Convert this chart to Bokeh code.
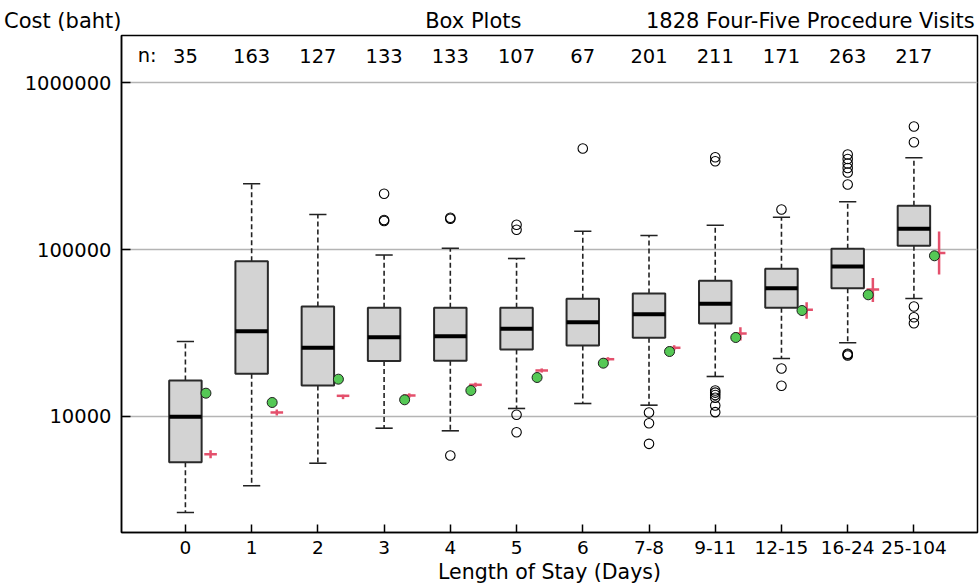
from bokeh.plotting import figure
from bokeh.layouts import column
from bokeh.models import FixedTicker, NumeralTickFormatter, Label, Range1d, ColumnDataSource
from bokeh.embed import file_html
from bokeh.resources import INLINE
from bokeh.core.properties import value

# ---------------- data ----------------
categories = ["0", "1", "2", "3", "4", "5", "6", "7-8", "9-11", "12-15", "16-24", "25-104"]
counts = [35, 163, 127, 133, 133, 107, 67, 201, 211, 171, 263, 217]

whisker_low = [2660, 3850, 5250, 8510, 8210, 11170, 11960, 11690, 17360, 22250, 27620, 50890]
q1 = [5330, 18020, 15330, 21490, 21550, 25190, 26610, 29600, 36060, 44780, 58650, 105250]
median = [9950, 32420, 25790, 29810, 30260, 33500, 36710, 40990, 47300, 58650, 79100, 133000]
q3 = [16430, 85090, 45570, 44820, 44780, 44780, 50680, 54510, 64950, 76640, 100970, 182700]
whisker_high = [28120, 247400, 162000, 92710, 101800, 88340, 128700, 121300, 139800, 156100, 193000, 354100]

outliers = [
    [],
    [],
    [],
    [215600, 150200, 148200],
    [154800, 152700, 5840],
    [140600, 131200, 10240, 8050],
    [402500],
    [10570, 9120, 6860],
    [357000, 337900, 14310, 13900, 13450, 12950, 11640, 10620],
    [173600, 19390, 15270],
    [370600, 348300, 327300, 307600, 289100, 245000, 23740, 23500, 23190],
    [545100, 439000, 45570, 39320, 36210],
]

green_points = [13790, 12130, 16730, 12590, 14310, 17120, 20860, 24500, 29720, 43120, 53550, 91700]
mean_values = [5945, 10570, 13300, 13360, 15480, 18860, 22030, 25790, 31400, 43540, 57610, 95280]
mean_low = [5630, 10140, 12700, 12970, 15040, 18330, 21410, 24920, 28520, 38460, 48480, 70850]
mean_high = [6280, 11010, 13500, 13760, 15940, 19400, 22660, 26710, 34240, 48350, 67500, 128200]

y_label = "Cost (baht)"
title_center = "Box Plots"
title_right = "1828 Four-Five Procedure Visits"
x_label = "Length of Stay (Days)"

# ---------------- styling constants ----------------
FONT = "DejaVu Sans"
BOX_W = 0.49
CAP_W = 0.13
GREEN_DX = 0.31
RED_DX = 0.38
RED_HW = 0.095
TOP_H = 33
W, H = 980, 587

xs = list(range(1, len(categories) + 1))
x_range = Range1d(0.035, 12.96)

# ---------------- title strip ----------------
top = figure(width=W, height=TOP_H, x_range=x_range, y_range=Range1d(0, 1),
             output_backend="svg", toolbar_location=None, title=None,
             x_axis_location=None, y_axis_location="left",
             min_border_left=121, min_border_right=3, min_border_top=7, min_border_bottom=0)
top.outline_line_color = None
top.grid.visible = False
top.background_fill_color = "white"
top.border_fill_color = "white"
top.yaxis.ticker = FixedTicker(ticks=[])
top.yaxis.axis_line_color = None
top.yaxis.major_tick_line_color = None
top.yaxis.minor_tick_line_color = None
top.yaxis.major_tick_in = 0
top.yaxis.major_tick_out = 0
top.yaxis.minor_tick_out = 0
top.yaxis.major_label_standoff = 0
top.yaxis.axis_label = y_label
top.yaxis.axis_label_orientation = "horizontal"
top.yaxis.axis_label_standoff = 0
top.yaxis.axis_label_text_font = FONT
top.yaxis.axis_label_text_font_size = "21px"
top.yaxis.axis_label_text_font_style = "normal"
top.yaxis.axis_label_text_color = "black"

top.text(x=[5.347], y=[0.5], text=[title_center], text_font=value(FONT), text_font_size="21px",
         text_align="center", text_baseline="middle", text_color="black")
top.text(x=[12.918], y=[0.5], text=[title_right], text_font=value(FONT), text_font_size="21px",
         text_align="right", text_baseline="middle", text_color="black")

# ---------------- main plot ----------------
p = figure(width=W, height=H - TOP_H, y_axis_type="log",
           x_range=x_range, y_range=Range1d(2020, 1.912e6),
           output_backend="svg", toolbar_location=None, title=None,
           min_border_left=121, min_border_right=3, min_border_top=2, min_border_bottom=55)
p.background_fill_color = "white"
p.border_fill_color = "white"
p.outline_line_color = "black"
p.outline_line_width = 1.5

# grid
p.xgrid.visible = False
p.ygrid.ticker = FixedTicker(ticks=[1e4, 1e5, 1e6])
p.ygrid.grid_line_color = "#b4b4b4"
p.ygrid.grid_line_width = 1.5

# y axis
p.yaxis.ticker = FixedTicker(ticks=[1e4, 1e5, 1e6])
p.yaxis.formatter = NumeralTickFormatter(format="0")
p.yaxis.major_tick_in = 9
p.yaxis.major_tick_out = 0
p.yaxis.minor_tick_line_color = None
p.yaxis.major_label_standoff = 10
p.yaxis.major_label_text_font = FONT
p.yaxis.major_label_text_font_size = "19.5px"
p.yaxis.major_label_text_color = "black"
p.yaxis.axis_line_width = 1.5
p.yaxis.major_tick_line_width = 1.5

# x axis
p.xaxis.ticker = FixedTicker(ticks=xs)
p.xaxis.major_label_overrides = {x: c for x, c in zip(xs, categories)}
p.xaxis.major_tick_in = 8
p.xaxis.major_tick_out = 0
p.xaxis.minor_tick_line_color = None
p.xaxis.major_label_standoff = 8
p.xaxis.major_label_text_font = FONT
p.xaxis.major_label_text_font_size = "18.5px"
p.xaxis.major_label_text_color = "black"
p.xaxis.axis_line_width = 1.5
p.xaxis.major_tick_line_width = 1.5
p.xaxis.axis_label = x_label
p.xaxis.axis_label_text_font = FONT
p.xaxis.axis_label_text_font_size = "20.5px"
p.xaxis.axis_label_text_font_style = "normal"
p.xaxis.axis_label_standoff = 3
p.xaxis.axis_label_text_color = "black"

# ---------------- boxes ----------------
src = ColumnDataSource(dict(
    x=xs, wl=whisker_low, q1=q1, med=median, q3=q3, wh=whisker_high,
    xl=[x - BOX_W / 2 for x in xs], xr=[x + BOX_W / 2 for x in xs],
    cl=[x - CAP_W for x in xs], cr=[x + CAP_W for x in xs],
    gx=[x + GREEN_DX for x in xs], g=green_points,
    rx=[x + RED_DX for x in xs], rxl=[x + RED_DX - RED_HW for x in xs], rxr=[x + RED_DX + RED_HW for x in xs],
    m=mean_values, ml=mean_low, mh=mean_high,
))

# whiskers (dashed)
p.segment(x0="x", y0="q3", x1="x", y1="wh", source=src, line_color="#222222", line_width=1.6, line_dash="5 3")
p.segment(x0="x", y0="q1", x1="x", y1="wl", source=src, line_color="#222222", line_width=1.6, line_dash="5 3")
# caps
p.segment(x0="cl", y0="wh", x1="cr", y1="wh", source=src, line_color="#222222", line_width=1.6)
p.segment(x0="cl", y0="wl", x1="cr", y1="wl", source=src, line_color="#222222", line_width=1.6)
# boxes
p.quad(left="xl", right="xr", bottom="q1", top="q3", source=src,
       fill_color="#d3d3d3", line_color="#2a2a2a", line_width=2)
# medians
p.segment(x0="xl", y0="med", x1="xr", y1="med", source=src, line_color="black", line_width=4)

# outliers
ox, oy = [], []
for x, vals in zip(xs, outliers):
    for v in vals:
        ox.append(x)
        oy.append(v)
p.scatter(ox, oy, marker="circle", size=9.5, fill_color=None, line_color="black", line_width=1.1)

# red mean crosses
p.segment(x0="rx", y0="ml", x1="rx", y1="mh", source=src, line_color="#e4506c", line_width=2.5)
p.segment(x0="rxl", y0="m", x1="rxr", y1="m", source=src, line_color="#e4506c", line_width=2.5)

# green points
p.scatter(x="gx", y="g", source=src, marker="circle", size=10, fill_color="#55c855",
          line_color="#1e1e1e", line_width=1)

# n row
n_y = 1.451e6
p.text(x=xs, y=[n_y] * len(xs), text=[str(c) for c in counts], text_font=value(FONT),
       text_font_size="19.5px", text_align="center", text_baseline="middle", text_color="black")
p.add_layout(Label(x=0.279, y=n_y, text="n:", text_font=FONT, text_font_size="19.5px",
                   text_align="left", text_baseline="middle", text_color="black"))

layout = column(top, p, spacing=0)
open("out.html", "w").write(file_html(layout, INLINE))
